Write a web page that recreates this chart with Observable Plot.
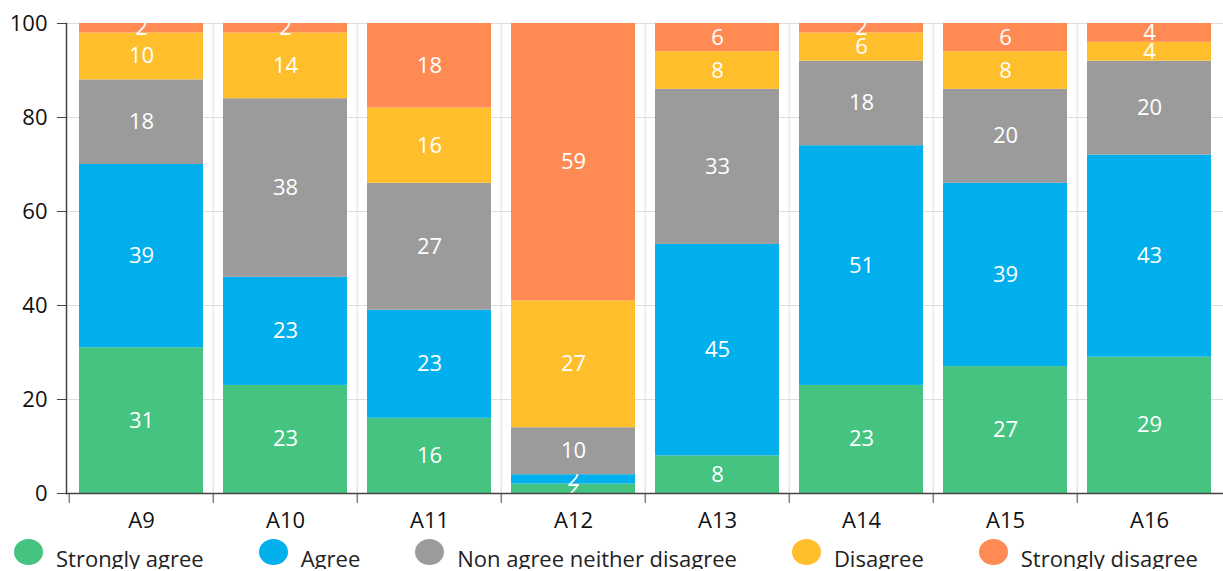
<!DOCTYPE html>
<html>
<head>
<meta charset="utf-8">
<script src="https://cdn.jsdelivr.net/npm/d3@7"></script>
<script src="https://cdn.jsdelivr.net/npm/@observablehq/plot@0.6"></script>
<style>
  html, body { margin: 0; padding: 0; background: #fff; }
  #chart { width: 1223px; font-family: "Open Sans", sans-serif; }
  .legend {
    display: flex; justify-content: space-between; align-items: center;
    box-sizing: border-box; width: 1198px; padding-left: 14px; height: 34px;
    font-size: 22px; color: #222;
  }
  .legend .item { display: flex; align-items: center; white-space: nowrap; }
  .legend .swatch { width: 29px; height: 26px; border-radius: 50%; margin-right: 13px; }
  .legend .label { position: relative; top: 6px; }
</style>
</head>
<body>
<div id="chart"></div>
<script>
// Survey items and answer categories
const categories = ["A9", "A10", "A11", "A12", "A13", "A14", "A15", "A16"];
const series = ["Strongly agree", "Agree", "Non agree neither disagree", "Disagree", "Strongly disagree"];
const colors = ["#44c381", "#00afec", "#9b9b9b", "#ffbe2b", "#ff8a54"];

// Percentage of answers per item
const stronglyAgree    = [31, 23, 16,  2,  8, 23, 27, 29];
const agree            = [39, 23, 23,  2, 45, 51, 39, 43];
const neutral          = [18, 38, 27, 10, 33, 18, 20, 20];
const disagree         = [10, 14, 16, 27,  8,  6,  8,  4];
const stronglyDisagree = [ 2,  2, 18, 59,  6,  2,  6,  4];
const yTicks = [0, 20, 40, 60, 80, 100];

// Long table; lo/hi are the cumulative bounds of each segment in the stack
const seriesValues = [stronglyAgree, agree, neutral, disagree, stronglyDisagree];
const table = [];
categories.forEach((c, i) => {
  let acc = 0;
  series.forEach((s, j) => {
    const v = seriesValues[j][i];
    table.push({category: c, series: s, value: v, lo: acc, hi: acc + v});
    acc += v;
  });
});

const W = 1223, ML = 66, MR = 0;
const step = (W - ML - MR) / categories.length; // width of one category slot

// Each series is painted as its bars followed by its labels, so the
// segments stacked above can cover the labels of the ones below.
const seriesLayers = series.flatMap(s => {
  const rows = table.filter(d => d.series === s);
  return [
    Plot.barY(rows, {x: "category", y1: "lo", y2: "hi", fill: "series"}),
    Plot.text(rows, {
      x: "category", y: d => (d.lo + d.hi) / 2,
      text: d => String(d.value), fill: "#fff", fontSize: 22, clip: "frame"
    })
  ];
});

const chart = Plot.plot({
  width: W,
  height: 535,
  marginLeft: ML,
  marginRight: MR,
  marginTop: 23,
  marginBottom: 42,
  style: {fontFamily: "'Open Sans', sans-serif", fontSize: "22px", color: "#222", background: "#fff"},
  x: {domain: categories, paddingInner: 0.14, paddingOuter: 0.07, label: null},
  y: {domain: [0, 100], label: null},
  color: {domain: series, range: colors},
  marks: [
    Plot.gridY(yTicks, {stroke: "#dedede", strokeOpacity: 1}),
    Plot.ruleX(categories.slice(1), {x: d => d, dx: -step / 2, stroke: "#dedede"}),
    ...seriesLayers,
    Plot.axisY(yTicks, {tickSize: 9, tickPadding: 10, stroke: "#444", fill: "#111", fontSize: 22}),
    Plot.axisX({tickSize: 0, tickPadding: 19, fill: "#111", fontSize: 22}),
    Plot.axisX({tickSize: 10, tickFormat: () => "", dx: -step / 2, stroke: "#444"}),
    Plot.frame({anchor: "left", stroke: "#444", strokeWidth: 1.5}),
    Plot.frame({anchor: "bottom", stroke: "#444", strokeWidth: 1.5})
  ]
});

const root = document.getElementById("chart");
root.appendChild(chart);

// Legend row below the plot
const legend = document.createElement("div");
legend.className = "legend";
series.forEach((s, i) => {
  const item = document.createElement("div");
  item.className = "item";
  const sw = document.createElement("span");
  sw.className = "swatch";
  sw.style.background = colors[i];
  const lab = document.createElement("span");
  lab.className = "label";
  lab.textContent = s;
  item.append(sw, lab);
  legend.appendChild(item);
});
root.appendChild(legend);
</script>
</body>
</html>
